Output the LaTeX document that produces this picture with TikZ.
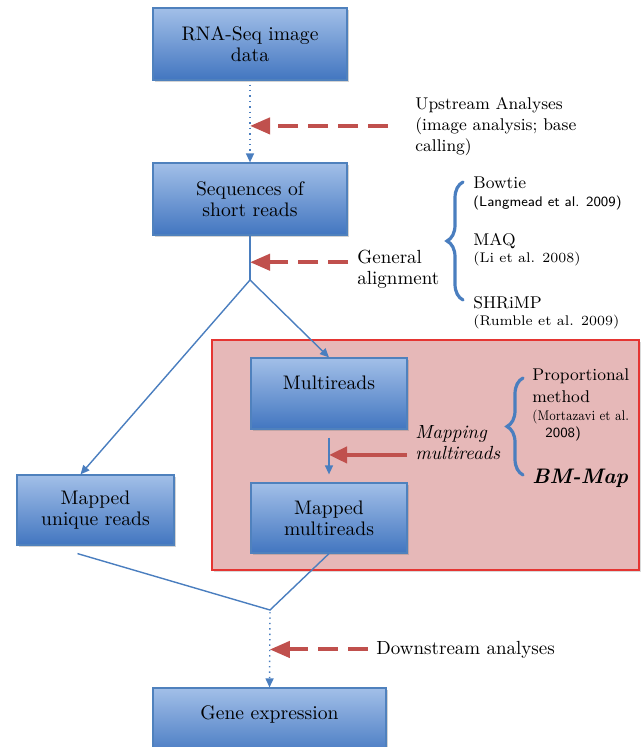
\documentclass[tikz,border=0pt]{standalone}
\usetikzlibrary{arrows.meta,shadows,decorations.pathreplacing}
\definecolor{boxtop}{HTML}{A2BFE8}
\definecolor{boxbot}{HTML}{4276C0}
\definecolor{boxline}{HTML}{4F81BD}
\definecolor{flowblue}{HTML}{4A7EBF}
\definecolor{arrowred}{HTML}{C0504D}
\definecolor{panelfill}{HTML}{E6B8B8}
\definecolor{panelline}{HTML}{E53532}
\tikzset{
  stage/.style={draw=boxline, line width=0.6pt, top color=boxtop, bottom color=boxbot,
    drop shadow={opacity=0.35, shadow xshift=1.2pt, shadow yshift=-1.2pt},
    align=center, inner sep=0pt, font=\fontsize{9.8}{10.5}\selectfont},
  panel/.style={draw=panelline, line width=0.8pt, fill=panelfill, inner sep=0pt,
    drop shadow={opacity=0.3, shadow xshift=1.2pt, shadow yshift=-1.2pt}},
  flow/.style={flowblue, line width=0.7pt, -{Triangle[length=4.5pt,width=4pt]}},
  flowline/.style={flowblue, line width=0.7pt},
  hint/.style={arrowred, line width=2pt, dash pattern=on 10pt off 5pt, -{Triangle[length=10pt,width=8pt]}},
  push/.style={arrowred, line width=2pt, -{Triangle[length=9pt,width=8pt]}},
  bracket/.style={flowblue, line width=1.6pt, line cap=round, decorate, decoration={brace, amplitude=8pt}},
  note/.style={inner sep=0pt, align=left, font=\fontsize{8.5}{10.5}\selectfont},
  cite/.style={inner sep=0pt, anchor=west, font=\fontsize{7}{8}\selectfont}
}
\begin{document}
\begin{tikzpicture}[x=0.5pt,y=-0.5pt]
  \useasboundingbox (0,0) rectangle (641,747);
  % highlighted part
  \node[panel, minimum width=213.5pt, minimum height=115pt] (panel) at (425.5,455) {};
  % stages
  \node[stage, minimum width=97pt, minimum height=36pt] (rnaseq) at (250,44) {RNA-Seq image\\data};
  \node[stage, minimum width=97pt, minimum height=36pt] (seqreads) at (250,199) {Sequences of\\short reads};
  \node[stage, minimum width=78pt, minimum height=35.5pt] (multi) at (329,393.5) {Multireads\\\mbox{}};
  \node[stage, minimum width=78pt, minimum height=35pt] (mapmulti) at (329,518) {Mapped\\multireads};
  \node[stage, minimum width=78.5pt, minimum height=35pt] (mapuniq) at (95.5,510) {Mapped\\unique reads};
  \node[stage, minimum width=116.5pt, minimum height=35.5pt] (gene) at (269.5,723.5) {Gene expression\\\mbox{}};
  \coordinate (split) at (250,280);
  \coordinate (join) at (270,610);
  % flow
  \draw[flow, dotted, shorten <=2pt] (rnaseq.south) -- (seqreads.north);
  \draw[flowline] (seqreads.south) -- (split);
  \draw[flow] (split) -- ([xshift=-7.5pt]mapuniq.north);
  \draw[flow] (split) -- (multi.north);
  \draw[flow, shorten <=4pt, shorten >=4pt] (multi.south) -- (mapmulti.north);
  \draw[flowline] ([xshift=-9pt,yshift=-4pt]mapuniq.south) -- (join) -- (mapmulti.south);
  \draw[flow, dotted, shorten <=1pt] (join) -- (gene.north);
  % where the side steps come in
  \path (rnaseq.south) -- (seqreads.north) coordinate[pos=0.554] (uphit);
  \path (seqreads.south) -- (split) coordinate[pos=0.6] (alignhit);
  \path (multi.south) -- (mapmulti.north) coordinate[pos=0.48] (maphit);
  \path (join) -- (gene.north) coordinate[pos=0.51] (downhit);
  \draw[hint] (uphit) ++(138,0) -- (uphit);
  \draw[hint] (alignhit) ++(98,0) -- (alignhit);
  \draw[push] (maphit) ++(78,0) -- (maphit);
  \draw[hint] (downhit) ++(98,0) -- (downhit);
  % side texts
  \node[note, anchor=north west] (upstream) at (415,97) {Upstream Analyses\\(image analysis; base\\calling)};
  \node[note, anchor=north west, font=\fontsize{9.5}{10.5}\selectfont] (general) at (357,250) {General\\alignment};
  \node[note, anchor=north west, font=\fontsize{9.5}{10.5}\selectfont\itshape] (mapping) at (415,425) {Mapping\\multireads};
  \node[note, anchor=west] (bowtie) at (473,183) {Bowtie};
  \node[cite, font=\fontsize{7}{8}\selectfont\sffamily] (langmead) at (473,203) {(Langmead et al. 2009)};
  \node[note, anchor=west] (maq) at (473,241) {MAQ};
  \node[cite] (li) at (473,259) {(Li et al. 2008)};
  \node[note, anchor=west] (shrimp) at (473,303) {SHRiMP};
  \node[cite] (rumble) at (473,322) {(Rumble et al. 2009)};
  \node[note, anchor=west] (propo) at (532,376) {Proportional};
  \node[note, anchor=west] (method) at (532,397) {method};
  \node[cite] (mortazavi) at (532,417) {\scalebox{0.82}[1]{(Mortazavi et al.}};
  \node[cite, font=\fontsize{7}{8}\selectfont\sffamily] (mortyear) at (545,434) {2008)};
  \node[inner sep=0pt, anchor=west, font=\fontsize{10.5}{12}\selectfont\bfseries\itshape] (bmmap) at (532,478) {BM-Map};
  \node[note, anchor=west, font=\fontsize{9.5}{10.5}\selectfont] (downstream) at (376,650) {Downstream analyses};
  % braces
  \draw[bracket] (463,300) -- (463,182);
  \draw[bracket] (523,475) -- (523,378);
\end{tikzpicture}
\end{document}
